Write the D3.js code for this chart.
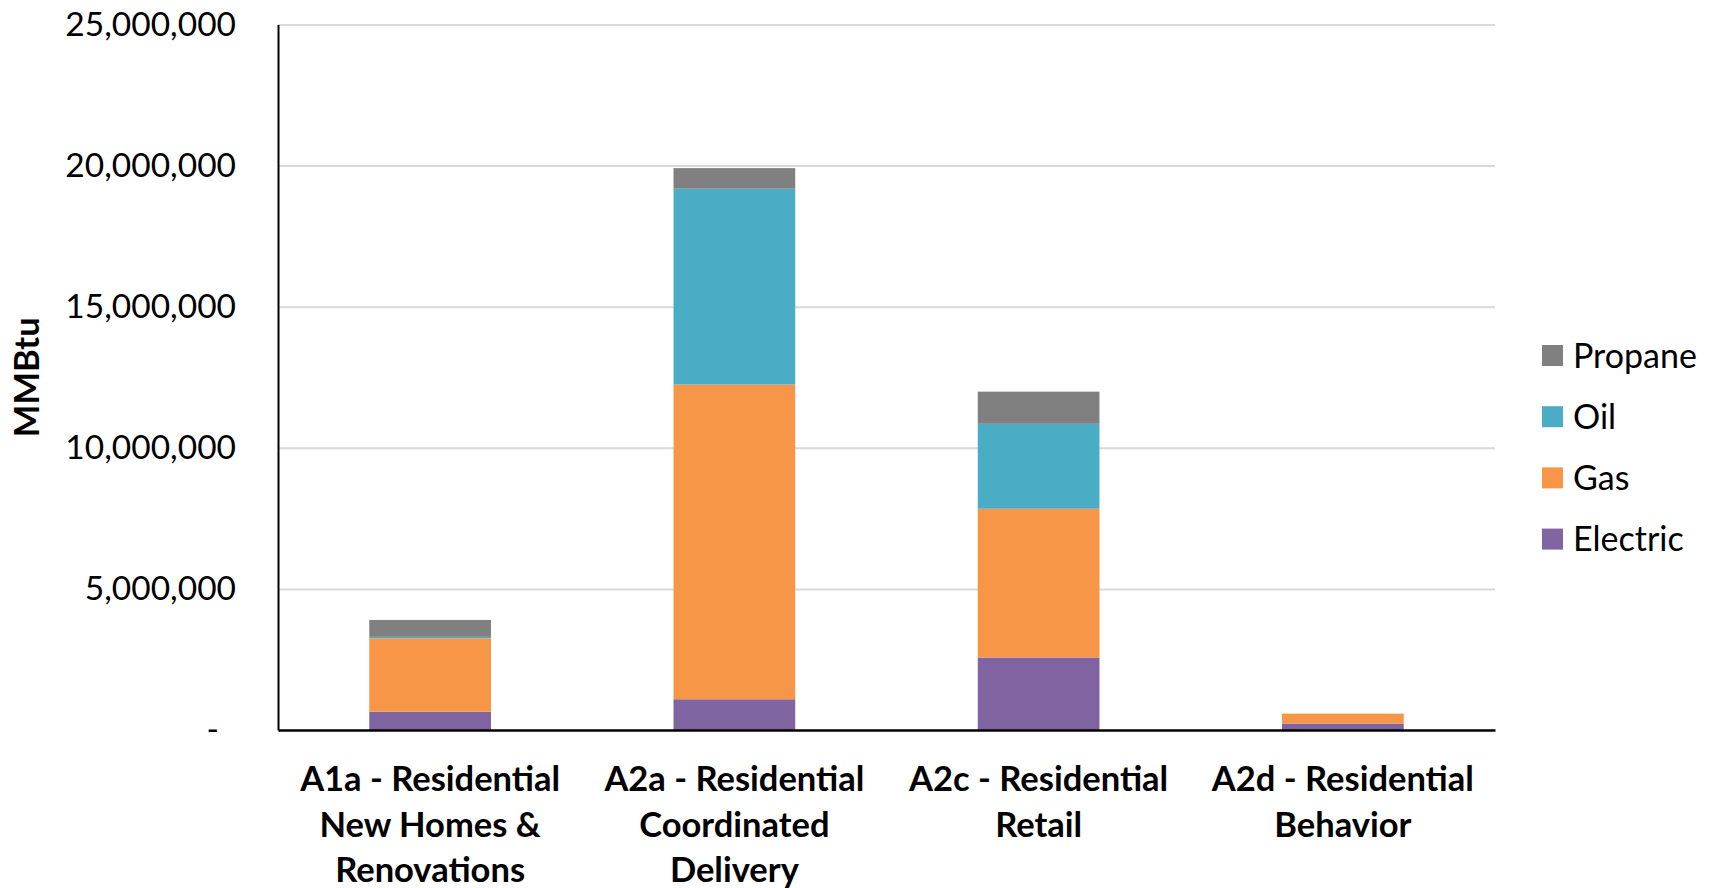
<!DOCTYPE html>
<html>
<head>
<meta charset="utf-8">
<script src="https://cdn.jsdelivr.net/npm/d3@7"></script>
<style>
  html, body { margin: 0; padding: 0; background: #fff; }
  svg { display: block; }
  text { font-family: Lato, "Open Sans", sans-serif; fill: #000; }
</style>
</head>
<body>
<svg id="chart" width="1711" height="888"></svg>
<script>
// ---- data ----
const categories = [
  "A1a - Residential|New Homes &|Renovations",
  "A2a - Residential|Coordinated|Delivery",
  "A2c - Residential|Retail",
  "A2d - Residential|Behavior"
];
const seriesNames = ["Electric", "Gas", "Oil", "Propane"];
const electric = [650000, 1090000, 2570000, 230000];
const gas      = [2600000, 11150000, 5270000, 350000];
const oil      = [50000, 6940000, 3010000, 0];
const propane  = [600000, 730000, 1140000, 0];
const yTicks = [0, 5000000, 10000000, 15000000, 20000000, 25000000];
const legendOrder = ["Propane", "Oil", "Gas", "Electric"];
const colors = { Electric: "#8064A2", Gas: "#F79646", Oil: "#4BACC6", Propane: "#808080" };
const yTitle = "MMBtu";

// ---- layout ----
const svg = d3.select("#chart");
const plotL = 278, plotR = 1495, plotT = 24.5, plotB = 730;

const rows = categories.map((c, i) => ({
  cat: c, Electric: electric[i], Gas: gas[i], Oil: oil[i], Propane: propane[i]
}));
const stacked = d3.stack().keys(seriesNames)(rows);

const x = d3.scaleBand().domain(categories).range([plotL, plotR])
  .paddingInner(0.6).paddingOuter(0.3);
const y = d3.scaleLinear().domain([0, 25000000]).range([plotB, plotT]);

// gridlines
svg.append("g")
  .attr("transform", `translate(${plotL},0)`)
  .call(d3.axisLeft(y).tickValues(yTicks.filter(d => d > 0)).tickSize(-(plotR - plotL)).tickFormat(""))
  .call(g => g.select(".domain").remove())
  .call(g => g.selectAll("line").attr("stroke", "#d9d9d9").attr("stroke-width", 2));

// bars
svg.append("g").selectAll("g").data(stacked).join("g")
  .attr("fill", d => colors[d.key])
  .selectAll("rect").data(d => d).join("rect")
  .attr("x", d => x(d.data.cat))
  .attr("width", x.bandwidth())
  .attr("y", d => y(d[1]))
  .attr("height", d => Math.max(0, y(d[0]) - y(d[1])));

// y axis
const yAxis = svg.append("g")
  .attr("transform", `translate(${plotL},0)`)
  .call(d3.axisLeft(y).tickValues(yTicks).tickSize(0).tickSizeOuter(0).tickPadding(42)
    .tickFormat(d => d === 0 ? "-" : d3.format(",")(d)));
yAxis.select(".domain").attr("stroke", "#000").attr("stroke-width", 2);
yAxis.selectAll("text").attr("font-size", 33.5).attr("font-family", "Lato, sans-serif").attr("fill", "#000");
yAxis.selectAll(".tick").filter(d => d === 0).select("text").attr("dx", -17);

// x axis
const xAxis = svg.append("g")
  .attr("transform", `translate(0,${plotB})`)
  .call(d3.axisBottom(x).tickSize(0).tickSizeOuter(0).tickPadding(0));
xAxis.select(".domain").attr("stroke", "#000").attr("stroke-width", 2.5);
xAxis.selectAll(".tick text").each(function(d) {
  const t = d3.select(this);
  const lines = d.split("|");
  t.text(null).attr("y", 0).attr("dy", null)
    .attr("font-size", 34.5).attr("font-weight", "bold").attr("font-family", "Lato, sans-serif").attr("fill", "#000");
  lines.forEach((ln, i) => {
    t.append("tspan").attr("x", 0).attr("y", 61 + i * 45.5).text(ln);
  });
});

// y title
svg.append("text")
  .attr("transform", `translate(39,${(plotT + plotB) / 2}) rotate(-90)`)
  .attr("text-anchor", "middle")
  .attr("font-size", 34.5).attr("font-weight", "bold")
  .text(yTitle);

// legend
const leg = svg.append("g").selectAll("g").data(legendOrder).join("g")
  .attr("transform", (d, i) => `translate(1542,${345 + i * 61.2})`);
leg.append("rect").attr("width", 21).attr("height", 21).attr("fill", d => colors[d]);
leg.append("text").attr("x", 31).attr("y", 22.5).attr("font-size", 34).text(d => d);
</script>
</body>
</html>
